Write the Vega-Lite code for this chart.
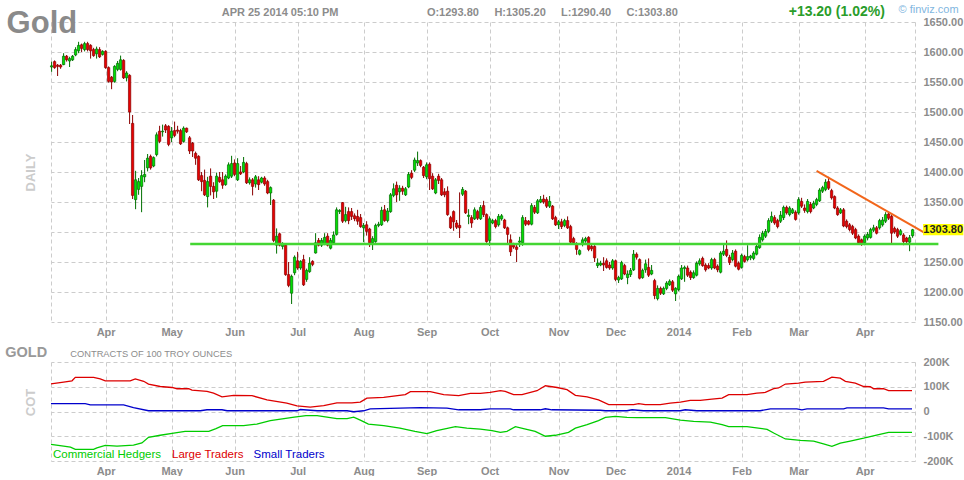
{
"$schema": "https://vega.github.io/schema/vega-lite/v6.json",
"background": "white",
"padding": {"left": 5, "top": 3, "right": 0, "bottom": 0},
"config": {
  "font": "Liberation Sans",
  "view": {"stroke": null},
  "scale": {"continuousPadding": 0},
  "axis": {"gridColor": "#cccccc", "gridDash": [4, 3], "gridWidth": 1, "domain": false, "ticks": false, "labelColor": "#8c8c8c", "labelFont": "Liberation Sans", "labelFontWeight": "bold", "labelFontSize": 11, "labelFlush": false, "labelOverlap": false}
},
"datasets": {
"ohlc": [
{"i":0,"o":1575,"h":1584,"l":1567,"c":1577},{"i":1,"o":1584,"h":1586,"l":1572,"c":1574},{"i":2,"o":1578,"h":1580,"l":1560,"c":1576},{"i":3,"o":1578,"h":1580,"l":1572,"c":1575},{"i":4,"o":1579,"h":1598,"l":1578,"c":1593},{"i":5,"o":1593,"h":1595,"l":1584,"c":1587},{"i":6,"o":1585,"h":1592,"l":1575,"c":1589},{"i":7,"o":1587,"h":1595,"l":1585,"c":1593},{"i":8,"o":1595,"h":1608,"l":1593,"c":1604},{"i":9,"o":1602,"h":1617,"l":1598,"c":1611},
{"i":10,"o":1612,"h":1614,"l":1600,"c":1606},{"i":11,"o":1604,"h":1617,"l":1601,"c":1614},{"i":12,"o":1614,"h":1617,"l":1601,"c":1604},{"i":13,"o":1611,"h":1613,"l":1589,"c":1602},{"i":14,"o":1604,"h":1607,"l":1592,"c":1594},{"i":15,"o":1597,"h":1609,"l":1589,"c":1605},{"i":16,"o":1604,"h":1608,"l":1590,"c":1592},{"i":17,"o":1596,"h":1603,"l":1594,"c":1601},{"i":18,"o":1601,"h":1603,"l":1572,"c":1574},{"i":19,"o":1574,"h":1576,"l":1549,"c":1551},
{"i":20,"o":1558,"h":1560,"l":1538,"c":1550},{"i":21,"o":1551,"h":1578,"l":1549,"c":1576},{"i":22,"o":1571,"h":1585,"l":1568,"c":1581},{"i":23,"o":1571,"h":1594,"l":1569,"c":1587},{"i":24,"o":1586,"h":1588,"l":1555,"c":1557},{"i":25,"o":1557,"h":1568,"l":1551,"c":1565},{"i":26,"o":1561,"h":1563,"l":1480,"c":1500},{"i":27,"o":1481,"h":1495,"l":1355,"c":1361},{"i":28,"o":1354,"h":1402,"l":1338,"c":1387},{"i":29,"o":1371,"h":1390,"l":1362,"c":1384},
{"i":30,"o":1376,"h":1403,"l":1333,"c":1394},{"i":31,"o":1392,"h":1420,"l":1383,"c":1396},{"i":32,"o":1407,"h":1430,"l":1401,"c":1423},{"i":33,"o":1426,"h":1429,"l":1404,"c":1407},{"i":34,"o":1410,"h":1426,"l":1408,"c":1424},{"i":35,"o":1429,"h":1466,"l":1426,"c":1462},{"i":36,"o":1468,"h":1477,"l":1448,"c":1451},{"i":37,"o":1467,"h":1479,"l":1459,"c":1468},{"i":38,"o":1477,"h":1480,"l":1465,"c":1470},{"i":39,"o":1476,"h":1478,"l":1443,"c":1446},
{"i":40,"o":1457,"h":1475,"l":1450,"c":1468},{"i":41,"o":1469,"h":1484,"l":1458,"c":1461},{"i":42,"o":1470,"h":1477,"l":1464,"c":1468},{"i":43,"o":1469,"h":1472,"l":1445,"c":1447},{"i":44,"o":1451,"h":1476,"l":1449,"c":1473},{"i":45,"o":1473,"h":1474,"l":1465,"c":1467},{"i":46,"o":1457,"h":1460,"l":1430,"c":1435},{"i":47,"o":1448,"h":1450,"l":1425,"c":1435},{"i":48,"o":1431,"h":1434,"l":1412,"c":1423},{"i":49,"o":1426,"h":1428,"l":1385,"c":1387},
{"i":50,"o":1394,"h":1400,"l":1368,"c":1384},{"i":51,"o":1386,"h":1404,"l":1360,"c":1362},{"i":52,"o":1359,"h":1392,"l":1341,"c":1384},{"i":53,"o":1393,"h":1406,"l":1361,"c":1376},{"i":54,"o":1376,"h":1383,"l":1355,"c":1367},{"i":55,"o":1368,"h":1399,"l":1357,"c":1393},{"i":56,"o":1391,"h":1400,"l":1382,"c":1384},{"i":57,"o":1387,"h":1400,"l":1372,"c":1378},{"i":58,"o":1379,"h":1396,"l":1377,"c":1393},{"i":59,"o":1390,"h":1416,"l":1388,"c":1412},
{"i":60,"o":1393,"h":1427,"l":1390,"c":1414},{"i":61,"o":1415,"h":1421,"l":1393,"c":1396},{"i":62,"o":1387,"h":1423,"l":1385,"c":1414},{"i":63,"o":1400,"h":1410,"l":1395,"c":1397},{"i":64,"o":1400,"h":1425,"l":1398,"c":1416},{"i":65,"o":1414,"h":1417,"l":1380,"c":1382},{"i":66,"o":1382,"h":1391,"l":1379,"c":1387},{"i":67,"o":1387,"h":1390,"l":1361,"c":1376},{"i":68,"o":1380,"h":1395,"l":1374,"c":1392},{"i":69,"o":1387,"h":1393,"l":1370,"c":1379},
{"i":70,"o":1383,"h":1392,"l":1381,"c":1390},{"i":71,"o":1390,"h":1393,"l":1377,"c":1380},{"i":72,"o":1384,"h":1387,"l":1363,"c":1365},{"i":73,"o":1365,"h":1376,"l":1345,"c":1374},{"i":74,"o":1353,"h":1355,"l":1283,"c":1286},{"i":75,"o":1278,"h":1306,"l":1264,"c":1293},{"i":76,"o":1297,"h":1299,"l":1276,"c":1278},{"i":77,"o":1276,"h":1283,"l":1271,"c":1280},{"i":78,"o":1278,"h":1280,"l":1227,"c":1229},{"i":79,"o":1229,"h":1250,"l":1208,"c":1211},
{"i":80,"o":1198,"h":1229,"l":1180,"c":1226},{"i":81,"o":1232,"h":1261,"l":1228,"c":1258},{"i":82,"o":1252,"h":1267,"l":1237,"c":1240},{"i":83,"o":1240,"h":1253,"l":1237,"c":1251},{"i":84,"o":1254,"h":1262,"l":1210,"c":1212},{"i":85,"o":1221,"h":1239,"l":1217,"c":1236},{"i":86,"o":1234,"h":1258,"l":1232,"c":1248},{"i":87,"o":1251,"h":1253,"l":1243,"c":1246},{"i":88,"o":1265,"h":1298,"l":1264,"c":1282},{"i":89,"o":1286,"h":1290,"l":1276,"c":1278},
{"i":90,"o":1278,"h":1290,"l":1275,"c":1286},{"i":91,"o":1280,"h":1298,"l":1278,"c":1291},{"i":92,"o":1293,"h":1298,"l":1276,"c":1278},{"i":93,"o":1273,"h":1290,"l":1271,"c":1286},{"i":94,"o":1282,"h":1301,"l":1280,"c":1295},{"i":95,"o":1296,"h":1341,"l":1294,"c":1337},{"i":96,"o":1334,"h":1338,"l":1330,"c":1336},{"i":97,"o":1349,"h":1350,"l":1315,"c":1318},{"i":98,"o":1319,"h":1342,"l":1316,"c":1329},{"i":99,"o":1334,"h":1341,"l":1313,"c":1319},
{"i":100,"o":1334,"h":1340,"l":1320,"c":1326},{"i":101,"o":1327,"h":1331,"l":1318,"c":1322},{"i":102,"o":1326,"h":1337,"l":1312,"c":1318},{"i":103,"o":1324,"h":1330,"l":1307,"c":1309},{"i":104,"o":1307,"h":1315,"l":1283,"c":1311},{"i":105,"o":1312,"h":1318,"l":1294,"c":1301},{"i":106,"o":1305,"h":1307,"l":1275,"c":1282},{"i":107,"o":1282,"h":1293,"l":1270,"c":1289},{"i":108,"o":1284,"h":1314,"l":1282,"c":1311},{"i":109,"o":1311,"h":1317,"l":1308,"c":1313},
{"i":110,"o":1312,"h":1342,"l":1310,"c":1336},{"i":111,"o":1337,"h":1345,"l":1317,"c":1319},{"i":112,"o":1319,"h":1340,"l":1316,"c":1335},{"i":113,"o":1334,"h":1365,"l":1332,"c":1362},{"i":114,"o":1361,"h":1381,"l":1358,"c":1372},{"i":115,"o":1378,"h":1384,"l":1350,"c":1362},{"i":116,"o":1367,"h":1378,"l":1352,"c":1373},{"i":117,"o":1373,"h":1377,"l":1362,"c":1368},{"i":118,"o":1362,"h":1375,"l":1360,"c":1372},{"i":119,"o":1375,"h":1400,"l":1373,"c":1396},
{"i":120,"o":1398,"h":1403,"l":1388,"c":1391},{"i":121,"o":1403,"h":1424,"l":1400,"c":1420},{"i":122,"o":1415,"h":1434,"l":1410,"c":1419},{"i":123,"o":1419,"h":1421,"l":1408,"c":1411},{"i":124,"o":1408,"h":1410,"l":1390,"c":1394},{"i":125,"o":1392,"h":1416,"l":1388,"c":1412},{"i":126,"o":1413,"h":1416,"l":1370,"c":1389},{"i":127,"o":1393,"h":1398,"l":1370,"c":1372},{"i":128,"o":1365,"h":1390,"l":1363,"c":1387},{"i":129,"o":1393,"h":1397,"l":1380,"c":1386},
{"i":130,"o":1387,"h":1390,"l":1360,"c":1362},{"i":131,"o":1367,"h":1373,"l":1358,"c":1362},{"i":132,"o":1368,"h":1376,"l":1327,"c":1329},{"i":133,"o":1324,"h":1327,"l":1305,"c":1307},{"i":134,"o":1334,"h":1336,"l":1302,"c":1317},{"i":135,"o":1315,"h":1320,"l":1305,"c":1308},{"i":136,"o":1311,"h":1366,"l":1290,"c":1307},{"i":137,"o":1363,"h":1375,"l":1360,"c":1371},{"i":138,"o":1368,"h":1370,"l":1330,"c":1332},{"i":139,"o":1326,"h":1338,"l":1313,"c":1328},
{"i":140,"o":1324,"h":1328,"l":1307,"c":1315},{"i":141,"o":1322,"h":1341,"l":1320,"c":1337},{"i":142,"o":1334,"h":1337,"l":1320,"c":1323},{"i":143,"o":1322,"h":1345,"l":1320,"c":1341},{"i":144,"o":1344,"h":1352,"l":1325,"c":1329},{"i":145,"o":1329,"h":1331,"l":1282,"c":1284},{"i":146,"o":1286,"h":1326,"l":1277,"c":1322},{"i":147,"o":1315,"h":1322,"l":1313,"c":1319},{"i":148,"o":1319,"h":1322,"l":1306,"c":1309},{"i":149,"o":1312,"h":1330,"l":1309,"c":1326},
{"i":150,"o":1322,"h":1330,"l":1319,"c":1327},{"i":151,"o":1320,"h":1322,"l":1305,"c":1307},{"i":152,"o":1307,"h":1309,"l":1280,"c":1296},{"i":153,"o":1287,"h":1296,"l":1260,"c":1267},{"i":154,"o":1279,"h":1282,"l":1272,"c":1275},{"i":155,"o":1275,"h":1280,"l":1250,"c":1271},{"i":156,"o":1283,"h":1292,"l":1275,"c":1285},{"i":157,"o":1282,"h":1328,"l":1277,"c":1324},{"i":158,"o":1319,"h":1325,"l":1310,"c":1313},{"i":159,"o":1318,"h":1320,"l":1311,"c":1313},
{"i":160,"o":1313,"h":1348,"l":1311,"c":1344},{"i":161,"o":1341,"h":1345,"l":1330,"c":1333},{"i":162,"o":1332,"h":1355,"l":1330,"c":1352},{"i":163,"o":1350,"h":1360,"l":1348,"c":1354},{"i":164,"o":1355,"h":1362,"l":1347,"c":1350},{"i":165,"o":1354,"h":1358,"l":1340,"c":1343},{"i":166,"o":1343,"h":1360,"l":1340,"c":1351},{"i":167,"o":1343,"h":1345,"l":1320,"c":1322},{"i":168,"o":1324,"h":1327,"l":1310,"c":1312},{"i":169,"o":1312,"h":1320,"l":1305,"c":1317},
{"i":170,"o":1317,"h":1322,"l":1305,"c":1309},{"i":171,"o":1311,"h":1322,"l":1308,"c":1319},{"i":172,"o":1319,"h":1326,"l":1305,"c":1307},{"i":173,"o":1309,"h":1312,"l":1281,"c":1283},{"i":174,"o":1289,"h":1292,"l":1279,"c":1282},{"i":175,"o":1280,"h":1283,"l":1262,"c":1271},{"i":176,"o":1263,"h":1271,"l":1261,"c":1269},{"i":177,"o":1280,"h":1291,"l":1276,"c":1287},{"i":178,"o":1285,"h":1292,"l":1282,"c":1289},{"i":179,"o":1291,"h":1293,"l":1268,"c":1271},
{"i":180,"o":1276,"h":1279,"l":1268,"c":1272},{"i":181,"o":1276,"h":1278,"l":1250,"c":1257},{"i":182,"o":1244,"h":1256,"l":1240,"c":1248},{"i":183,"o":1245,"h":1252,"l":1243,"c":1248},{"i":184,"o":1248,"h":1258,"l":1235,"c":1245},{"i":185,"o":1252,"h":1256,"l":1239,"c":1241},{"i":186,"o":1245,"h":1250,"l":1237,"c":1240},{"i":187,"o":1240,"h":1255,"l":1237,"c":1252},{"i":188,"o":1252,"h":1254,"l":1218,"c":1221},{"i":189,"o":1220,"h":1227,"l":1215,"c":1224},
{"i":190,"o":1222,"h":1252,"l":1220,"c":1249},{"i":191,"o":1244,"h":1247,"l":1228,"c":1230},{"i":192,"o":1224,"h":1236,"l":1213,"c":1230},{"i":193,"o":1229,"h":1240,"l":1225,"c":1236},{"i":194,"o":1237,"h":1270,"l":1235,"c":1263},{"i":195,"o":1263,"h":1266,"l":1254,"c":1258},{"i":196,"o":1254,"h":1256,"l":1221,"c":1223},{"i":197,"o":1224,"h":1239,"l":1222,"c":1236},{"i":198,"o":1237,"h":1254,"l":1232,"c":1247},{"i":199,"o":1241,"h":1256,"l":1225,"c":1228},
{"i":200,"o":1230,"h":1245,"l":1228,"c":1236},{"i":201,"o":1219,"h":1222,"l":1188,"c":1194},{"i":202,"o":1189,"h":1211,"l":1186,"c":1206},{"i":203,"o":1206,"h":1209,"l":1195,"c":1198},{"i":204,"o":1197,"h":1209,"l":1195,"c":1206},{"i":205,"o":1206,"h":1218,"l":1203,"c":1215},{"i":206,"o":1212,"h":1221,"l":1210,"c":1218},{"i":207,"o":1217,"h":1220,"l":1200,"c":1203},{"i":208,"o":1197,"h":1208,"l":1185,"c":1206},{"i":209,"o":1204,"h":1229,"l":1201,"c":1226},
{"i":210,"o":1222,"h":1245,"l":1220,"c":1240},{"i":211,"o":1239,"h":1244,"l":1217,"c":1241},{"i":212,"o":1240,"h":1244,"l":1225,"c":1228},{"i":213,"o":1233,"h":1236,"l":1220,"c":1224},{"i":214,"o":1224,"h":1236,"l":1222,"c":1232},{"i":215,"o":1228,"h":1251,"l":1226,"c":1248},{"i":216,"o":1247,"h":1256,"l":1244,"c":1252},{"i":217,"o":1256,"h":1259,"l":1242,"c":1244},{"i":218,"o":1245,"h":1248,"l":1234,"c":1237},{"i":219,"o":1244,"h":1248,"l":1238,"c":1240},
{"i":220,"o":1240,"h":1257,"l":1237,"c":1254},{"i":221,"o":1254,"h":1257,"l":1238,"c":1240},{"i":222,"o":1243,"h":1246,"l":1233,"c":1237},{"i":223,"o":1233,"h":1268,"l":1231,"c":1265},{"i":224,"o":1263,"h":1280,"l":1260,"c":1268},{"i":225,"o":1271,"h":1286,"l":1258,"c":1261},{"i":226,"o":1258,"h":1262,"l":1245,"c":1249},{"i":227,"o":1254,"h":1270,"l":1251,"c":1265},{"i":228,"o":1268,"h":1271,"l":1241,"c":1243},{"i":229,"o":1248,"h":1251,"l":1236,"c":1238},
{"i":230,"o":1241,"h":1264,"l":1239,"c":1261},{"i":231,"o":1259,"h":1262,"l":1249,"c":1251},{"i":232,"o":1254,"h":1278,"l":1251,"c":1259},{"i":233,"o":1257,"h":1262,"l":1253,"c":1260},{"i":234,"o":1256,"h":1268,"l":1253,"c":1265},{"i":235,"o":1263,"h":1280,"l":1261,"c":1276},{"i":236,"o":1274,"h":1296,"l":1272,"c":1291},{"i":237,"o":1287,"h":1302,"l":1284,"c":1298},{"i":238,"o":1293,"h":1305,"l":1290,"c":1301},{"i":239,"o":1301,"h":1323,"l":1298,"c":1319},
{"i":240,"o":1318,"h":1334,"l":1315,"c":1326},{"i":241,"o":1324,"h":1328,"l":1312,"c":1315},{"i":242,"o":1319,"h":1322,"l":1306,"c":1309},{"i":243,"o":1318,"h":1335,"l":1315,"c":1328},{"i":244,"o":1324,"h":1344,"l":1320,"c":1341},{"i":245,"o":1341,"h":1344,"l":1329,"c":1332},{"i":246,"o":1329,"h":1343,"l":1326,"c":1340},{"i":247,"o":1332,"h":1340,"l":1330,"c":1337},{"i":248,"o":1333,"h":1336,"l":1319,"c":1321},{"i":249,"o":1332,"h":1358,"l":1329,"c":1354},
{"i":250,"o":1351,"h":1357,"l":1340,"c":1343},{"i":251,"o":1340,"h":1346,"l":1332,"c":1336},{"i":252,"o":1334,"h":1355,"l":1331,"c":1351},{"i":253,"o":1346,"h":1350,"l":1331,"c":1334},{"i":254,"o":1340,"h":1352,"l":1338,"c":1348},{"i":255,"o":1346,"h":1357,"l":1343,"c":1354},{"i":256,"o":1352,"h":1373,"l":1350,"c":1370},{"i":257,"o":1368,"h":1377,"l":1365,"c":1374},{"i":258,"o":1371,"h":1388,"l":1368,"c":1383},{"i":259,"o":1384,"h":1392,"l":1370,"c":1373},
{"i":260,"o":1369,"h":1372,"l":1354,"c":1357},{"i":261,"o":1359,"h":1361,"l":1338,"c":1340},{"i":262,"o":1340,"h":1343,"l":1327,"c":1329},{"i":263,"o":1332,"h":1340,"l":1330,"c":1337},{"i":264,"o":1337,"h":1340,"l":1308,"c":1310},{"i":265,"o":1318,"h":1321,"l":1306,"c":1309},{"i":266,"o":1312,"h":1315,"l":1301,"c":1304},{"i":267,"o":1309,"h":1312,"l":1295,"c":1298},{"i":268,"o":1304,"h":1307,"l":1288,"c":1290},{"i":269,"o":1293,"h":1296,"l":1279,"c":1282},
{"i":270,"o":1287,"h":1289,"l":1277,"c":1280},{"i":271,"o":1282,"h":1296,"l":1278,"c":1293},{"i":272,"o":1290,"h":1300,"l":1286,"c":1296},{"i":273,"o":1291,"h":1307,"l":1289,"c":1304},{"i":274,"o":1303,"h":1312,"l":1300,"c":1307},{"i":275,"o":1307,"h":1310,"l":1296,"c":1298},{"i":276,"o":1307,"h":1322,"l":1304,"c":1319},{"i":277,"o":1312,"h":1325,"l":1309,"c":1320},{"i":278,"o":1318,"h":1333,"l":1315,"c":1329},{"i":279,"o":1330,"h":1333,"l":1320,"c":1323},
{"i":280,"o":1326,"h":1329,"l":1280,"c":1298},{"i":281,"o":1306,"h":1309,"l":1297,"c":1300},{"i":282,"o":1304,"h":1307,"l":1290,"c":1293},{"i":283,"o":1296,"h":1305,"l":1294,"c":1302},{"i":284,"o":1295,"h":1298,"l":1278,"c":1284},{"i":285,"o":1290,"h":1292,"l":1280,"c":1284},{"i":286,"o":1283,"h":1295,"l":1268,"c":1290.6},{"i":287,"o":1293.8,"h":1305.2,"l":1290.4,"c":1303.8}
],
"cot": [
{"s":"Large Traders","i":-0.2,"v":112000},{"s":"Large Traders","i":4,"v":119000},{"s":"Large Traders","i":6.8,"v":124000},{"s":"Large Traders","i":7.9,"v":138000},{"s":"Large Traders","i":14,"v":138000},{"s":"Large Traders","i":16.2,"v":132000},{"s":"Large Traders","i":17.9,"v":124000},{"s":"Large Traders","i":26.2,"v":124000},{"s":"Large Traders","i":27.9,"v":132000},{"s":"Large Traders","i":30.7,"v":122000},{"s":"Large Traders","i":32.3,"v":111000},{"s":"Large Traders","i":36.2,"v":101000},{"s":"Large Traders","i":40.1,"v":97000},{"s":"Large Traders","i":41.8,"v":92000},{"s":"Large Traders","i":45.7,"v":92000},{"s":"Large Traders","i":46.8,"v":86000},{"s":"Large Traders","i":51.8,"v":81000},{"s":"Large Traders","i":54,"v":74000},{"s":"Large Traders","i":56.8,"v":59000},{"s":"Large Traders","i":60.7,"v":65000},{"s":"Large Traders","i":66.8,"v":64000},{"s":"Large Traders","i":71.8,"v":47000},{"s":"Large Traders","i":78.4,"v":34000},{"s":"Large Traders","i":81.8,"v":23000},{"s":"Large Traders","i":86.2,"v":18000},{"s":"Large Traders","i":90.7,"v":24000},{"s":"Large Traders","i":95.1,"v":35000},{"s":"Large Traders","i":100.1,"v":35000},{"s":"Large Traders","i":102.9,"v":38000},{"s":"Large Traders","i":105.1,"v":54000},{"s":"Large Traders","i":110.7,"v":57000},{"s":"Large Traders","i":117.9,"v":68000},{"s":"Large Traders","i":119.6,"v":80000},{"s":"Large Traders","i":126.2,"v":80000},{"s":"Large Traders","i":130.7,"v":68000},{"s":"Large Traders","i":135.7,"v":64000},{"s":"Large Traders","i":139.6,"v":73000},{"s":"Large Traders","i":142.9,"v":73000},{"s":"Large Traders","i":146.2,"v":77000},{"s":"Large Traders","i":149.6,"v":84000},{"s":"Large Traders","i":151.2,"v":81000},{"s":"Large Traders","i":154,"v":68000},{"s":"Large Traders","i":156.8,"v":68000},{"s":"Large Traders","i":161.8,"v":84000},{"s":"Large Traders","i":164.6,"v":104000},{"s":"Large Traders","i":168.5,"v":97000},{"s":"Large Traders","i":171.8,"v":88000},{"s":"Large Traders","i":174.6,"v":65000},{"s":"Large Traders","i":178.5,"v":59000},{"s":"Large Traders","i":182.3,"v":47000},{"s":"Large Traders","i":185.7,"v":28000},{"s":"Large Traders","i":189.6,"v":28000},{"s":"Large Traders","i":194,"v":28000},{"s":"Large Traders","i":195.7,"v":32000},{"s":"Large Traders","i":197.9,"v":28000},{"s":"Large Traders","i":202.9,"v":28000},{"s":"Large Traders","i":206.2,"v":34000},{"s":"Large Traders","i":209.6,"v":38000},{"s":"Large Traders","i":212.9,"v":45000},{"s":"Large Traders","i":216.2,"v":45000},{"s":"Large Traders","i":220.1,"v":50000},{"s":"Large Traders","i":223.5,"v":54000},{"s":"Large Traders","i":225.7,"v":68000},{"s":"Large Traders","i":231.8,"v":68000},{"s":"Large Traders","i":235.1,"v":74000},{"s":"Large Traders","i":237.9,"v":77000},{"s":"Large Traders","i":240.7,"v":92000},{"s":"Large Traders","i":242.3,"v":95000},{"s":"Large Traders","i":244.6,"v":111000},{"s":"Large Traders","i":249,"v":115000},{"s":"Large Traders","i":251.2,"v":119000},{"s":"Large Traders","i":257.3,"v":122000},{"s":"Large Traders","i":260.1,"v":139000},{"s":"Large Traders","i":262.9,"v":135000},{"s":"Large Traders","i":264.6,"v":122000},{"s":"Large Traders","i":267.9,"v":115000},{"s":"Large Traders","i":270.7,"v":101000},{"s":"Large Traders","i":272.9,"v":100000},{"s":"Large Traders","i":274,"v":92000},{"s":"Large Traders","i":277.3,"v":92000},{"s":"Large Traders","i":279,"v":84000},{"s":"Large Traders","i":286.8,"v":84000},
{"s":"Small Traders","i":-0.2,"v":32000},{"s":"Small Traders","i":11.2,"v":32000},{"s":"Small Traders","i":12.9,"v":27000},{"s":"Small Traders","i":24,"v":27000},{"s":"Small Traders","i":27.3,"v":16000},{"s":"Small Traders","i":32.3,"v":3000},{"s":"Small Traders","i":49.6,"v":3000},{"s":"Small Traders","i":51.8,"v":7000},{"s":"Small Traders","i":56.8,"v":7000},{"s":"Small Traders","i":58.5,"v":3000},{"s":"Small Traders","i":81.8,"v":3000},{"s":"Small Traders","i":82.9,"v":8000},{"s":"Small Traders","i":86.2,"v":5000},{"s":"Small Traders","i":88.5,"v":3000},{"s":"Small Traders","i":98.5,"v":3000},{"s":"Small Traders","i":100.7,"v":-1000},{"s":"Small Traders","i":104,"v":3000},{"s":"Small Traders","i":106.2,"v":11000},{"s":"Small Traders","i":122.9,"v":16000},{"s":"Small Traders","i":131.8,"v":14000},{"s":"Small Traders","i":135.7,"v":7000},{"s":"Small Traders","i":142.9,"v":7000},{"s":"Small Traders","i":146.2,"v":11000},{"s":"Small Traders","i":152.9,"v":11000},{"s":"Small Traders","i":154,"v":7000},{"s":"Small Traders","i":162.9,"v":7000},{"s":"Small Traders","i":164.6,"v":11000},{"s":"Small Traders","i":166.8,"v":7000},{"s":"Small Traders","i":182.9,"v":5000},{"s":"Small Traders","i":184.6,"v":3000},{"s":"Small Traders","i":191.8,"v":3000},{"s":"Small Traders","i":193.5,"v":7000},{"s":"Small Traders","i":197.3,"v":3000},{"s":"Small Traders","i":209.6,"v":3000},{"s":"Small Traders","i":211.2,"v":7000},{"s":"Small Traders","i":215.1,"v":3000},{"s":"Small Traders","i":236.2,"v":3000},{"s":"Small Traders","i":239.6,"v":11000},{"s":"Small Traders","i":248.4,"v":11000},{"s":"Small Traders","i":250.1,"v":7000},{"s":"Small Traders","i":251.8,"v":11000},{"s":"Small Traders","i":264,"v":11000},{"s":"Small Traders","i":265.1,"v":15000},{"s":"Small Traders","i":277.3,"v":15000},{"s":"Small Traders","i":279,"v":11000},{"s":"Small Traders","i":286.8,"v":11000},
{"s":"Commercial Hedgers","i":-0.2,"v":-133000},{"s":"Commercial Hedgers","i":4,"v":-140000},{"s":"Commercial Hedgers","i":6.3,"v":-144000},{"s":"Commercial Hedgers","i":7.9,"v":-153000},{"s":"Commercial Hedgers","i":14,"v":-153000},{"s":"Commercial Hedgers","i":15.1,"v":-147000},{"s":"Commercial Hedgers","i":17.9,"v":-137000},{"s":"Commercial Hedgers","i":21.8,"v":-140000},{"s":"Commercial Hedgers","i":27.3,"v":-136000},{"s":"Commercial Hedgers","i":30.1,"v":-127000},{"s":"Commercial Hedgers","i":32.3,"v":-104000},{"s":"Commercial Hedgers","i":36.2,"v":-96000},{"s":"Commercial Hedgers","i":40.7,"v":-87000},{"s":"Commercial Hedgers","i":44.5,"v":-80000},{"s":"Commercial Hedgers","i":52.4,"v":-80000},{"s":"Commercial Hedgers","i":54.8,"v":-69000},{"s":"Commercial Hedgers","i":57,"v":-57000},{"s":"Commercial Hedgers","i":64,"v":-57000},{"s":"Commercial Hedgers","i":68.4,"v":-51000},{"s":"Commercial Hedgers","i":72.9,"v":-37000},{"s":"Commercial Hedgers","i":80.9,"v":-23000},{"s":"Commercial Hedgers","i":84.8,"v":-17000},{"s":"Commercial Hedgers","i":88.5,"v":-17000},{"s":"Commercial Hedgers","i":95.1,"v":-29000},{"s":"Commercial Hedgers","i":98.5,"v":-29000},{"s":"Commercial Hedgers","i":100.7,"v":-23000},{"s":"Commercial Hedgers","i":102.9,"v":-35000},{"s":"Commercial Hedgers","i":105.6,"v":-51000},{"s":"Commercial Hedgers","i":110.7,"v":-57000},{"s":"Commercial Hedgers","i":116.1,"v":-67000},{"s":"Commercial Hedgers","i":121.1,"v":-80000},{"s":"Commercial Hedgers","i":125.1,"v":-89000},{"s":"Commercial Hedgers","i":128.4,"v":-77000},{"s":"Commercial Hedgers","i":134.6,"v":-61000},{"s":"Commercial Hedgers","i":138.4,"v":-67000},{"s":"Commercial Hedgers","i":142.9,"v":-71000},{"s":"Commercial Hedgers","i":146.8,"v":-77000},{"s":"Commercial Hedgers","i":149.6,"v":-84000},{"s":"Commercial Hedgers","i":151.8,"v":-80000},{"s":"Commercial Hedgers","i":154.6,"v":-61000},{"s":"Commercial Hedgers","i":157.3,"v":-69000},{"s":"Commercial Hedgers","i":161.2,"v":-80000},{"s":"Commercial Hedgers","i":164.6,"v":-100000},{"s":"Commercial Hedgers","i":167.9,"v":-96000},{"s":"Commercial Hedgers","i":172.3,"v":-84000},{"s":"Commercial Hedgers","i":174.6,"v":-67000},{"s":"Commercial Hedgers","i":178.5,"v":-53000},{"s":"Commercial Hedgers","i":182.3,"v":-37000},{"s":"Commercial Hedgers","i":184.6,"v":-24000},{"s":"Commercial Hedgers","i":187.9,"v":-20000},{"s":"Commercial Hedgers","i":191.8,"v":-24000},{"s":"Commercial Hedgers","i":195.1,"v":-25000},{"s":"Commercial Hedgers","i":204.6,"v":-25000},{"s":"Commercial Hedgers","i":209.6,"v":-35000},{"s":"Commercial Hedgers","i":214,"v":-40000},{"s":"Commercial Hedgers","i":219.6,"v":-43000},{"s":"Commercial Hedgers","i":223.5,"v":-53000},{"s":"Commercial Hedgers","i":225.7,"v":-61000},{"s":"Commercial Hedgers","i":231.8,"v":-61000},{"s":"Commercial Hedgers","i":238.5,"v":-72000},{"s":"Commercial Hedgers","i":240.7,"v":-87000},{"s":"Commercial Hedgers","i":244.6,"v":-111000},{"s":"Commercial Hedgers","i":249.6,"v":-117000},{"s":"Commercial Hedgers","i":254,"v":-120000},{"s":"Commercial Hedgers","i":257.3,"v":-131000},{"s":"Commercial Hedgers","i":260.1,"v":-141000},{"s":"Commercial Hedgers","i":262.9,"v":-128000},{"s":"Commercial Hedgers","i":266.2,"v":-120000},{"s":"Commercial Hedgers","i":270.7,"v":-108000},{"s":"Commercial Hedgers","i":275.7,"v":-93000},{"s":"Commercial Hedgers","i":279,"v":-84000},{"s":"Commercial Hedgers","i":286.8,"v":-84000}
]
},
"spacing": 40,
"bounds": "flush",
"vconcat": [
{
 "width": 864,
 "height": 300,
 "layer": [
  {
   "data": {"name": "ohlc"},
   "mark": {"type": "rule", "strokeWidth": 1},
   "encoding": {
    "x": {"field": "i", "type": "quantitative", "title": null, "scale": {"domain": [-0.2, 287.8], "nice": false, "zero": false, "padding": 0},
     "axis": {"values": [-0.2, 18, 40, 61, 82, 104, 125, 146, 169, 188, 209, 230, 249, 271, 287.8], "grid": true, "labelPadding": 4, "labelExpr": "datum.value==18?'Apr':datum.value==40?'May':datum.value==61?'Jun':datum.value==82?'Jul':datum.value==104?'Aug':datum.value==125?'Sep':datum.value==146?'Oct':datum.value==169?'Nov':datum.value==188?'Dec':datum.value==209?'2014':datum.value==230?'Feb':datum.value==249?'Mar':datum.value==271?'Apr':''"}},
    "y": {"field": "l", "type": "quantitative", "scale": {"domain": [1150, 1650], "nice": false, "zero": false},
     "axis": {"orient": "left", "labels": false, "grid": false, "title": "DAILY", "titleColor": "#cccccc", "titleFontSize": 13, "titleFontWeight": "bold", "titleFont": "Liberation Sans", "titlePadding": 14}},
    "y2": {"field": "h"},
    "color": {"condition": {"test": "datum.c >= datum.o", "value": "#007000"}, "value": "#8a0000"}
   }
  },
  {
   "data": {"name": "ohlc"},
   "mark": {"type": "bar", "size": 2.3, "strokeWidth": 0.7},
   "encoding": {
    "x": {"field": "i", "type": "quantitative", "title": null, "scale": {"domain": [-0.2, 287.8], "nice": false, "zero": false, "padding": 0}},
    "y": {"field": "o", "type": "quantitative", "scale": {"domain": [1150, 1650], "nice": false, "zero": false},
     "axis": {"orient": "right", "values": [1150, 1200, 1250, 1300, 1350, 1400, 1450, 1500, 1550, 1600, 1650], "labelExpr": "datum.value == 1300 ? '' : format(datum.value, '.2f')", "grid": true, "title": null, "labelPadding": 8}},
    "y2": {"field": "c"},
    "fill": {"condition": {"test": "datum.c >= datum.o", "value": "#00e000"}, "value": "#e80000"},
    "stroke": {"condition": {"test": "datum.c >= datum.o", "value": "#006a00"}, "value": "#8a0000"}
   }
  },
  {
   "data": {"values": [{"i": 46.2, "i2": 295.6, "p": 1280}]},
   "mark": {"type": "rule", "strokeWidth": 2.6, "color": "#44d633"},
   "encoding": {
    "x": {"field": "i", "type": "quantitative", "title": null, "scale": {"domain": [-0.2, 287.8], "nice": false, "zero": false, "padding": 0}},
    "x2": {"field": "i2"},
    "y": {"field": "p", "type": "quantitative", "axis": null, "scale": {"domain": [1150, 1650], "nice": false, "zero": false}}
   }
  },
  {
   "data": {"values": [{"i": 255, "i2": 291.2, "p": 1402, "p2": 1298}]},
   "mark": {"type": "rule", "strokeWidth": 2, "color": "#f2661b"},
   "encoding": {
    "x": {"field": "i", "type": "quantitative", "title": null, "scale": {"domain": [-0.2, 287.8], "nice": false, "zero": false, "padding": 0}},
    "x2": {"field": "i2"},
    "y": {"field": "p", "type": "quantitative", "axis": null, "scale": {"domain": [1150, 1650], "nice": false, "zero": false}},
    "y2": {"field": "p2"}
   }
  },
  {
   "data": {"name": "ohlc"},
   "transform": [{"filter": "datum.i == 287"}],
   "mark": {"type": "point", "shape": "M-1,-0.28L1,-0.28L1,0.28L-1,0.28Z", "size": 1624, "filled": true, "color": "#ffff00", "opacity": 1, "xOffset": 30.6},
   "encoding": {
    "x": {"field": "i", "type": "quantitative", "title": null, "scale": {"domain": [-0.2, 287.8], "nice": false, "zero": false, "padding": 0}},
    "y": {"field": "c", "type": "quantitative", "axis": null, "scale": {"domain": [1150, 1650], "nice": false, "zero": false}}
   }
  },
  {
   "data": {"name": "ohlc"},
   "transform": [{"filter": "datum.i == 287"}],
   "mark": {"type": "text", "align": "center", "baseline": "middle", "dx": 30.6, "fontSize": 11, "fontWeight": "bold", "color": "#222222"},
   "encoding": {
    "x": {"field": "i", "type": "quantitative", "title": null, "scale": {"domain": [-0.2, 287.8], "nice": false, "zero": false, "padding": 0}},
    "y": {"field": "c", "type": "quantitative", "axis": null, "scale": {"domain": [1150, 1650], "nice": false, "zero": false}},
    "text": {"field": "c", "type": "quantitative", "format": ".2f"}
   }
  },
  {
   "data": {"values": [{"t": "Gold", "i": -15.0, "p": 1632}]},
   "mark": {"type": "text", "align": "left", "baseline": "alphabetic", "fontSize": 31, "fontWeight": "bold", "color": "#8a8a8a"},
   "encoding": {
    "x": {"field": "i", "type": "quantitative", "title": null, "scale": {"domain": [-0.2, 287.8], "nice": false, "zero": false, "padding": 0}},
    "y": {"field": "p", "type": "quantitative", "axis": null, "scale": {"domain": [1150, 1650], "nice": false, "zero": false}},
    "text": {"field": "t"}
   }
  },
  {
   "data": {"values": [{"t": "APR 25 2014 05:10 PM", "i": 56.7, "p": 1659.5}, {"t": "O:1293.80", "i": 125.1, "p": 1659.5}, {"t": "H:1305.20", "i": 147.6, "p": 1659.5}, {"t": "L:1290.40", "i": 169.8, "p": 1659.5}, {"t": "C:1303.80", "i": 191.6, "p": 1659.5}]},
   "mark": {"type": "text", "align": "left", "baseline": "alphabetic", "fontSize": 11, "fontWeight": "bold", "color": "#8c8c8c"},
   "encoding": {
    "x": {"field": "i", "type": "quantitative", "title": null, "scale": {"domain": [-0.2, 287.8], "nice": false, "zero": false, "padding": 0}},
    "y": {"field": "p", "type": "quantitative", "axis": null, "scale": {"domain": [1150, 1650], "nice": false, "zero": false}},
    "text": {"field": "t"}
   }
  },
  {
   "data": {"values": [{"t": "+13.20 (1.02%)", "i": 245.7, "p": 1660.7}]},
   "mark": {"type": "text", "align": "left", "baseline": "alphabetic", "fontSize": 14, "fontWeight": "bold", "color": "#2a9d2a"},
   "encoding": {
    "x": {"field": "i", "type": "quantitative", "title": null, "scale": {"domain": [-0.2, 287.8], "nice": false, "zero": false, "padding": 0}},
    "y": {"field": "p", "type": "quantitative", "axis": null, "scale": {"domain": [1150, 1650], "nice": false, "zero": false}},
    "text": {"field": "t"}
   }
  },
  {
   "data": {"values": [{"t": "© finviz.com", "i": 282.3, "p": 1665.3}]},
   "mark": {"type": "text", "align": "left", "baseline": "alphabetic", "fontSize": 11, "color": "#7fb6e0"},
   "encoding": {
    "x": {"field": "i", "type": "quantitative", "title": null, "scale": {"domain": [-0.2, 287.8], "nice": false, "zero": false, "padding": 0}},
    "y": {"field": "p", "type": "quantitative", "axis": null, "scale": {"domain": [1150, 1650], "nice": false, "zero": false}},
    "text": {"field": "t"}
   }
  }
 ],
 "resolve": {"axis": {"y": "independent"}}
},
{
 "width": 864,
 "height": 99,
 "layer": [
  {
   "data": {"name": "cot"},
   "mark": {"type": "line", "strokeWidth": 1.3},
   "encoding": {
    "x": {"field": "i", "type": "quantitative", "title": null, "scale": {"domain": [-0.2, 287.8], "nice": false, "zero": false, "padding": 0},
     "axis": {"values": [-0.2, 18, 40, 61, 82, 104, 125, 146, 169, 188, 209, 230, 249, 271, 287.8], "grid": true, "labelPadding": 4, "labelExpr": "datum.value==18?'Apr':datum.value==40?'May':datum.value==61?'Jun':datum.value==82?'Jul':datum.value==104?'Aug':datum.value==125?'Sep':datum.value==146?'Oct':datum.value==169?'Nov':datum.value==188?'Dec':datum.value==209?'2014':datum.value==230?'Feb':datum.value==249?'Mar':datum.value==271?'Apr':''"}},
    "y": {"field": "v", "type": "quantitative", "scale": {"domain": [-200000, 200000], "nice": false, "zero": false},
     "axis": {"orient": "left", "labels": false, "grid": false, "title": "COT", "titleColor": "#cccccc", "titleFontSize": 13, "titleFontWeight": "bold", "titleFont": "Liberation Sans", "titlePadding": 14, "titleY": 40}},
    "color": {"field": "s", "type": "nominal", "scale": {"domain": ["Commercial Hedgers", "Large Traders", "Small Traders"], "range": ["#00cc00", "#dd0000", "#0000cc"]}, "legend": null}
   }
  },
  {
   "data": {"values": [{"s": "Commercial Hedgers", "i": 0.47, "v": -186600}, {"s": "Large Traders", "i": 40.13, "v": -186600}, {"s": "Small Traders", "i": 67.33, "v": -186600}]},
   "mark": {"type": "text", "align": "left", "baseline": "alphabetic", "fontSize": 11.5},
   "encoding": {
    "x": {"field": "i", "type": "quantitative", "title": null, "scale": {"domain": [-0.2, 287.8], "nice": false, "zero": false, "padding": 0}},
    "y": {"field": "v", "type": "quantitative", "scale": {"domain": [-200000, 200000], "nice": false, "zero": false},
     "axis": {"orient": "right", "values": [-200000, -100000, 0, 100000, 200000], "grid": true, "title": null, "labelPadding": 8, "labelExpr": "datum.value == 0 ? '0' : (datum.value / 1000) + 'K'"}},
    "text": {"field": "s"},
    "color": {"field": "s", "type": "nominal", "legend": null}
   }
  },
  {
   "data": {"values": [{"t": "GOLD", "i": -15.43, "v": 219100}]},
   "mark": {"type": "text", "align": "left", "baseline": "alphabetic", "fontSize": 14.5, "fontWeight": "bold", "color": "#999999"},
   "encoding": {
    "x": {"field": "i", "type": "quantitative", "title": null, "scale": {"domain": [-0.2, 287.8], "nice": false, "zero": false, "padding": 0}},
    "y": {"field": "v", "type": "quantitative", "axis": null, "scale": {"domain": [-200000, 200000], "nice": false, "zero": false}},
    "text": {"field": "t"}
   }
  },
  {
   "data": {"values": [{"t": "CONTRACTS OF 100 TROY OUNCES", "i": 6.23, "v": 219100}]},
   "mark": {"type": "text", "align": "left", "baseline": "alphabetic", "fontSize": 9.3, "color": "#8c8c8c"},
   "encoding": {
    "x": {"field": "i", "type": "quantitative", "title": null, "scale": {"domain": [-0.2, 287.8], "nice": false, "zero": false, "padding": 0}},
    "y": {"field": "v", "type": "quantitative", "axis": null, "scale": {"domain": [-200000, 200000], "nice": false, "zero": false}},
    "text": {"field": "t"}
   }
  }
 ],
 "resolve": {"axis": {"y": "independent"}}
}
]
}
